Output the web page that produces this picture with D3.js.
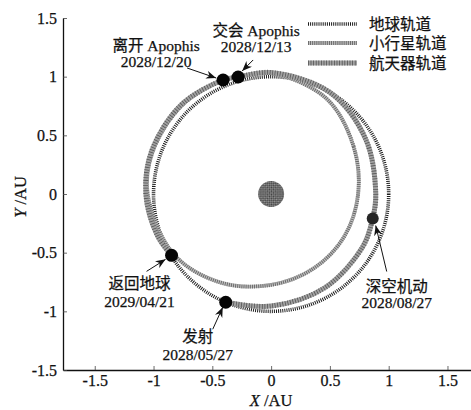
<!DOCTYPE html>
<html>
<head>
<meta charset="utf-8">
<script src="https://cdn.jsdelivr.net/npm/d3@7"></script>
<style>
  body { margin: 0; background: #fff; }
  text { font-family: "Liberation Serif", "Times New Roman", "Noto Sans CJK SC", serif; fill: #111; stroke: #111; stroke-width: 0.25px; }
</style>
</head>
<body>
<svg id="chart" width="471" height="410"></svg>
<script>
// ---- data ----
const xTicks = [-1.5, -1, -0.5, 0, 0.5, 1, 1.5];
const yTicks = [-1.5, -1, -0.5, 0, 0.5, 1, 1.5];
const legendLabels = ["地球轨道", "小行星轨道", "航天器轨道"];
const earthOrbitRadius = 1; // AU

// Apophis orbit: [heliocentric longitude (deg), distance (AU)]
const asteroidOrbit = [
  [0, 0.74], [30, 0.81], [60, 0.94], [90, 1.03], [105.7, 1.036], [112.8, 1.054],
  [135, 1.07], [160, 1.07], [180, 1.05], [211.7, 0.975], [240, 0.87],
  [270, 0.775], [300, 0.73], [330, 0.72]
];

// spacecraft transfer path: [heliocentric longitude (deg), distance (AU)]
const spacecraftPath = [
  [-112.7, 1.0], [-90, 0.955], [-60, 0.92], [-30, 0.9],
  [-13.6, 0.889], [0, 0.89], [30, 0.93], [60, 1.0], [90, 1.035],
  [105.7, 1.036], [112.8, 1.054], [135, 1.078], [160, 1.08], [180, 1.065],
  [200, 1.03], [211.7, 0.995]
];

// mission events
const eventNames = ["发射", "深空机动", "交会 Apophis", "离开 Apophis", "返回地球"];
const eventDates = ["2028/05/27", "2028/08/27", "2028/12/13", "2028/12/20", "2029/04/21"];
const eventPolar = [[-112.7, 1.0], [-13.6, 0.889], [105.7, 1.036], [112.8, 1.054], [211.7, 0.995]];

// ---- layout ----
const plot = { left: 63, right: 471, top: 18, bottom: 370 };
const svg = d3.select("#chart");

const x = d3.scaleLinear().domain([-1.77, 1.70]).range([plot.left, plot.right]);
const y = d3.scaleLinear().domain([-1.5, 1.5]).range([plot.bottom, plot.top]);

const toXY = d => {
  const a = d[0] * Math.PI / 180;
  return [x(d[1] * Math.cos(a)), y(d[1] * Math.sin(a))];
};

// ---- defs: textures and arrowheads ----
const defs = svg.append("defs");
const sunPat = defs.append("pattern").attr("id", "sunTex")
  .attr("width", 3).attr("height", 3).attr("patternUnits", "userSpaceOnUse")
  .attr("patternTransform", "rotate(45)");
sunPat.append("rect").attr("width", 3).attr("height", 3).attr("fill", "#9a9a9a");
sunPat.append("rect").attr("width", 1.5).attr("height", 1.5).attr("fill", "#3d3d3d");
sunPat.append("rect").attr("x", 1.5).attr("y", 1.5).attr("width", 1.5).attr("height", 1.5).attr("fill", "#3d3d3d");

defs.append("marker").attr("id", "arrow")
  .attr("markerUnits", "userSpaceOnUse")
  .attr("markerWidth", 11).attr("markerHeight", 9)
  .attr("refX", 10).attr("refY", 4).attr("orient", "auto")
  .append("path").attr("d", "M0,0 L10,4 L0,8 L3,4 Z").attr("fill", "#111");

// ---- orbit styles ----
function styleEarth(sel) {
  sel.attr("fill", "none").attr("stroke", "#1c1c1c").attr("stroke-width", 3.6)
    .attr("stroke-dasharray", "1,1.1");
}
function styleAsteroid(g, dAttr) {
  g.append("path").attr("d", dAttr).attr("fill", "none")
    .attr("stroke", "#bdbdbd").attr("stroke-width", 3.8);
  g.append("path").attr("d", dAttr).attr("fill", "none")
    .attr("stroke", "#666").attr("stroke-width", 3.8).attr("stroke-dasharray", "0.9,1.2");
}
function styleCraft(g, dAttr) {
  g.append("path").attr("d", dAttr).attr("fill", "none")
    .attr("stroke", "#a2a2a2").attr("stroke-width", 5);
  g.append("path").attr("d", dAttr).attr("fill", "none")
    .attr("stroke", "#555").attr("stroke-width", 5).attr("stroke-dasharray", "0.8,1.8");
}

// ---- axes ----
const fmt = d => String(d);
const gx = svg.append("g").attr("transform", `translate(0,${plot.bottom})`)
  .call(d3.axisBottom(x).tickValues(xTicks).tickFormat(fmt).tickSize(-4).tickSizeOuter(0).tickPadding(5));
const gy = svg.append("g").attr("transform", `translate(${plot.left},0)`)
  .call(d3.axisLeft(y).tickValues(yTicks).tickFormat(fmt).tickSize(-4).tickSizeOuter(0).tickPadding(6));
[gx, gy].forEach(g => {
  g.select(".domain").attr("stroke", "#111").attr("stroke-width", 1.3);
  g.selectAll(".tick line").attr("stroke", "#444").attr("stroke-width", 0.8);
  g.selectAll(".tick text").attr("font-size", 16).attr("fill", "#111")
    .style("font-family", '"Liberation Serif", serif');
});

svg.append("text").attr("x", 271).attr("y", 406).attr("text-anchor", "middle")
  .attr("font-size", 16.5)
  .call(t => {
    t.append("tspan").attr("font-style", "italic").text("X");
    t.append("tspan").text(" /AU");
  });
svg.append("text").attr("transform", "translate(26,197) rotate(-90)")
  .attr("text-anchor", "middle").attr("font-size", 16.5)
  .call(t => {
    t.append("tspan").attr("font-style", "italic").text("Y");
    t.append("tspan").text(" /AU");
  });

// ---- orbits ----
svg.append("ellipse")
  .attr("cx", x(0)).attr("cy", y(0))
  .attr("rx", x(earthOrbitRadius) - x(0)).attr("ry", y(0) - y(earthOrbitRadius))
  .call(styleEarth);

const asteroidLine = d3.line().curve(d3.curveCatmullRomClosed.alpha(0.5));
styleAsteroid(svg.append("g"), asteroidLine(asteroidOrbit.map(toXY)));

const craftLine = d3.line().curve(d3.curveCatmullRom.alpha(0.5));
styleCraft(svg.append("g"), craftLine(spacecraftPath.map(toXY)));

// ---- sun ----
svg.append("circle").attr("cx", x(0)).attr("cy", y(0)).attr("r", 13)
  .attr("fill", "url(#sunTex)");

// ---- events: dots, arrows, labels ----
// label layout relative to each dot: text centre, two baselines, arrow tail and tip
const labelLayout = [
  { dx: -28, b1: 40, b2: 58, tail: [-13, 27], tip: [-3, 5] },
  { dx: 24, b1: 73, b2: 89, tail: [14, 53], tip: [3, 7] },
  { dx: 18, b1: -41, b2: -25, tail: [15, -17], tip: [4, -6] },
  { dx: -67, b1: -29, b2: -13, tail: [-36, -12], tip: [-7, -2] },
  { dx: -32, b1: 34, b2: 52, tail: [-25, 16], tip: [-6, 4] }
];

eventPolar.forEach((p, i) => {
  const [cx, cy] = toXY(p);
  const L = labelLayout[i];
  svg.append("line")
    .attr("x1", cx + L.tail[0]).attr("y1", cy + L.tail[1])
    .attr("x2", cx + L.tip[0]).attr("y2", cy + L.tip[1])
    .attr("stroke", "#111").attr("stroke-width", 1)
    .attr("marker-end", "url(#arrow)");
  svg.append("circle").attr("cx", cx).attr("cy", cy).attr("r", i === 1 ? 6 : 6.5)
    .attr("fill", i === 1 ? "#262626" : "#050505");
  const t = svg.append("text").attr("text-anchor", "middle").attr("font-size", 15.5);
  t.append("tspan").attr("x", cx + L.dx).attr("y", cy + L.b1).text(eventNames[i]);
  t.append("tspan").attr("x", cx + L.dx).attr("y", cy + L.b2).text(eventDates[i]);
});

// ---- legend ----
const legend = svg.append("g");
const legendY = [24, 43, 63];
legendLabels.forEach((name, i) => {
  const yy = legendY[i];
  const seg = `M308,${yy}L357,${yy}`;
  if (i === 0) legend.append("path").attr("d", seg).call(styleEarth);
  else if (i === 1) styleAsteroid(legend.append("g"), seg);
  else styleCraft(legend.append("g"), seg);
  legend.append("text").attr("x", 369).attr("y", yy + 5.5)
    .attr("font-size", 15.5).text(name);
});
</script>
</body>
</html>
